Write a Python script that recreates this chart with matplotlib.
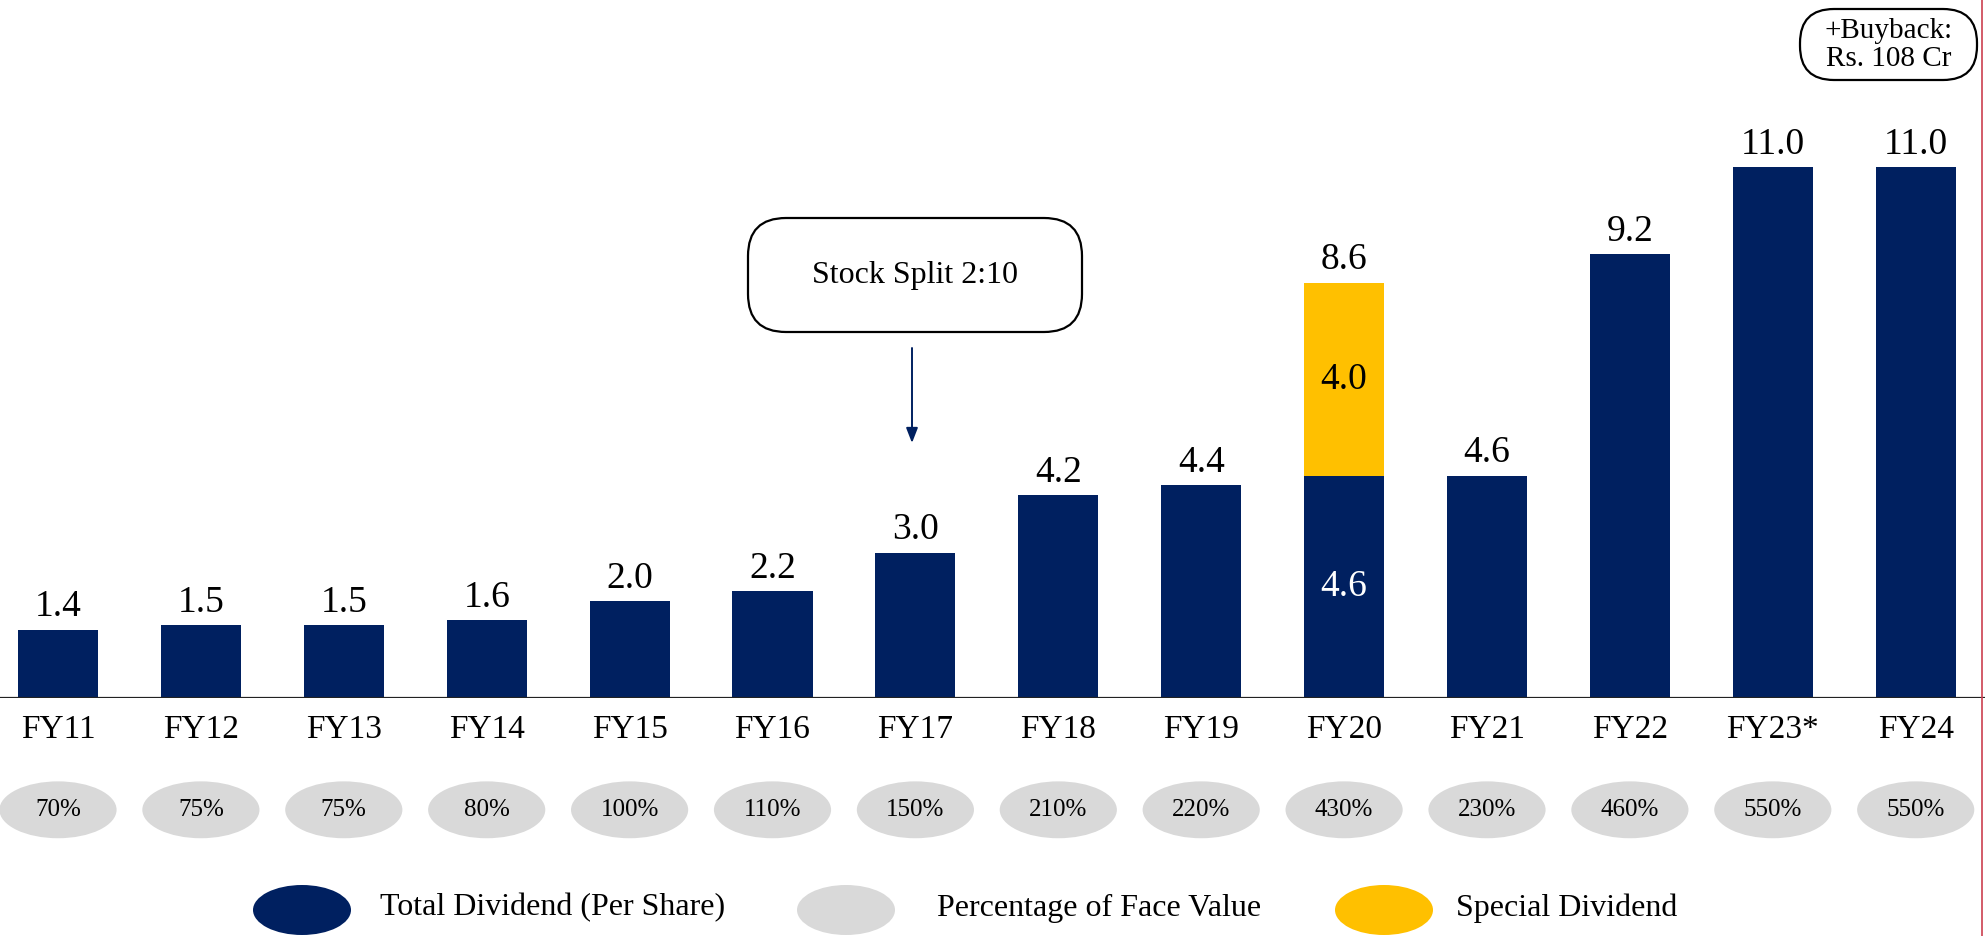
import numpy as np
import matplotlib
matplotlib.use("Agg")
import matplotlib.pyplot as plt
from matplotlib.patches import Ellipse, FancyBboxPatch
from matplotlib.lines import Line2D

plt.rcParams['font.family'] = ['Liberation Serif', 'DejaVu Serif']

# data
years = ["FY11", "FY12", "FY13", "FY14", "FY15", "FY16", "FY17",
         "FY18", "FY19", "FY20", "FY21", "FY22", "FY23*", "FY24"]
total_div = [1.4, 1.5, 1.5, 1.6, 2.0, 2.2, 3.0, 4.2, 4.4, 4.6, 4.6, 9.2, 11.0, 11.0]
special_div = [0, 0, 0, 0, 0, 0, 0, 0, 0, 4.0, 0, 0, 0, 0]
face_pct = ["70%", "75%", "75%", "80%", "100%", "110%", "150%",
            "210%", "220%", "430%", "230%", "460%", "550%", "550%"]

NAVY = "#002060"
GOLD = "#FFC000"
GREY = "#D9D9D9"

W, H = 1985, 936
fig = plt.figure(figsize=(W / 100, H / 100), dpi=100)
ax = fig.add_axes([0, (H - 697.5) / H, 1, 697.5 / H])

x = np.arange(len(years))
total = np.array(total_div) + np.array(special_div)

base = ax.bar(x, total_div, width=0.56, color=NAVY, zorder=2)
top = ax.bar(x, special_div, bottom=total_div, width=0.56, color=GOLD, zorder=2)

# value labels on top of each column
for xi, t in zip(x, total):
    ax.annotate(f"{t:.1f}", (xi, t), xytext=(0, 4), textcoords="offset points",
                ha="center", va="bottom", fontsize=27, color="black")

# labels inside the stacked FY20 column
for xi, b, s in zip(x, total_div, special_div):
    if s > 0:
        ax.text(xi, b / 2, f"{b:.1f}", ha="center", va="center", fontsize=27, color="white")
        ax.text(xi, b + s / 2, f"{s:.1f}", ha="center", va="center", fontsize=27, color="black")

ax.set_xlim(-58 / 142.9, (W - 58) / 142.9)
ax.set_ylim(0, 697.5 / 48.2)
ax.set_xticks(x)
ax.set_xticklabels(years, fontsize=24)
ax.tick_params(axis="x", length=0, pad=12)
ax.set_yticks([])
for sp in ["top", "right", "left", "bottom"]:
    ax.spines[sp].set_visible(False)
ax.axhline(0, color="#222222", lw=1.6, zorder=3)

# percentage of face value bubbles
for xi, p in zip(x, face_pct):
    ax.add_patch(Ellipse((xi, -2.33), 0.82, 1.18, facecolor=GREY, edgecolor="none",
                         clip_on=False))
    ax.text(xi, -2.33, p, ha="center", va="center", fontsize=18, color="black")

# overlay in pixel coordinates for annotations and legend
ov = fig.add_axes([0, 0, 1, 1])
ov.set_xlim(0, W)
ov.set_ylim(H, 0)
ov.axis("off")
ov.patch.set_visible(False)

# stock split callout
ov.add_patch(FancyBboxPatch((748, 218), 334, 114, boxstyle="round,pad=0,rounding_size=38",
                            facecolor="white", edgecolor="black", lw=1.6))
ov.text(915, 275, "Stock Split 2:10", ha="center", va="center", fontsize=23)
ov.annotate("", xy=(912, 443), xytext=(912, 348),
            arrowprops=dict(arrowstyle="-|>,head_width=0.35,head_length=0.9",
                            color=NAVY, lw=1.4, shrinkA=0, shrinkB=0))

# buyback note
ov.add_patch(FancyBboxPatch((1800, 9), 177, 71, boxstyle="round,pad=0,rounding_size=34",
                            facecolor="white", edgecolor="black", lw=1.6))
ov.text(1889, 45, "+Buyback:\nRs. 108 Cr", ha="center", va="center", fontsize=21,
        linespacing=1.05)

# legend
legend_items = [("Total Dividend (Per Share)", NAVY, 302, 380),
                ("Percentage of Face Value", GREY, 846, 937),
                ("Special Dividend", GOLD, 1384, 1456)]
for label, col, ex, tx in legend_items:
    ov.add_patch(Ellipse((ex, 910), 98, 50, facecolor=col, edgecolor="none"))
    ov.text(tx, 908, label, ha="left", va="center", fontsize=23)

# right border line
fig.add_artist(Line2D([1982 / W, 1982 / W], [0, 1], color="#CC3F4F", lw=1.2))

fig.savefig("out.png", dpi=100)
